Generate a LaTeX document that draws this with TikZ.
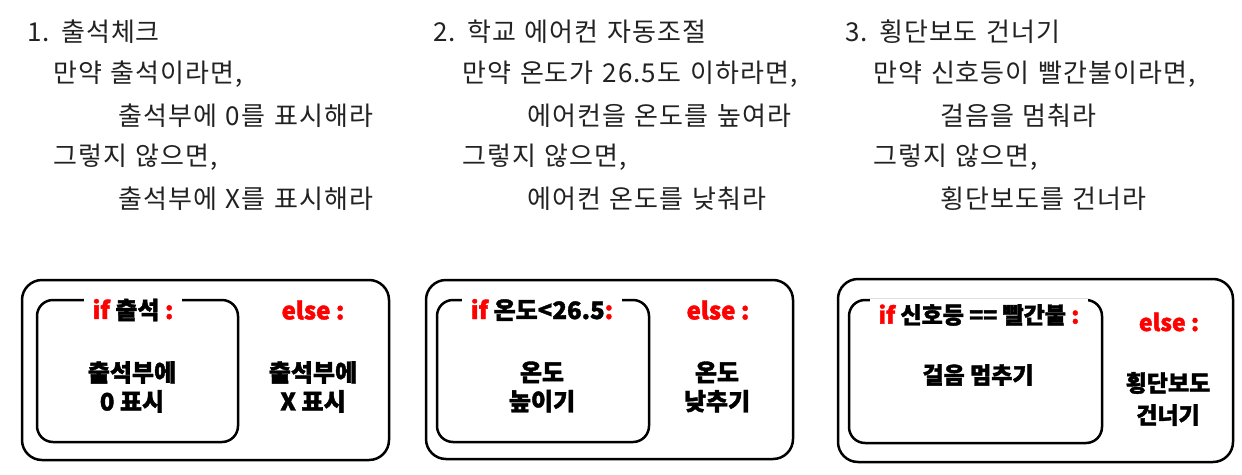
\documentclass[tikz,border=0pt]{standalone}
\usepackage{fontspec}
\setmainfont{Noto Sans CJK KR}[BoldFeatures={FakeBold=1.6}]
\newfontfamily\headfont{Noto Sans CJK KR}[LetterSpace=4,WordSpace=1.3]
\definecolor{ifred}{RGB}{255,0,0}
\definecolor{headgray}{RGB}{34,34,34}

\begin{document}
\begin{tikzpicture}[x=1pt,y=-1pt,every node/.style={inner sep=0pt},
        headtext/.style={anchor=west,text=headgray,font=\headfont\fontsize{26}{30}\selectfont},
        boxtext/.style={align=center,font=\fontsize{24}{29}\selectfont\bfseries},
        boxtitle/.style={boxtext,fill=white,inner xsep=9pt,minimum height=28pt},
        outerbox/.style={draw,line width=2.5pt,rounded corners=20pt},
        innerbox/.style={draw,line width=2.5pt,rounded corners=16pt}]
        \useasboundingbox (0,0) rectangle (1242,474);
        % 1. attendance
        \node[headtext] (h10) at (27,32) {1. 출석체크};
        \node[headtext] (h11) at (53,74) {만약 출석이라면,};
        \node[headtext] (h12) at (118,116) {출석부에 0를 표시해라};
        \node[headtext] (h13) at (53,157) {그렇지 않으면,};
        \node[headtext] (h14) at (118,199) {출석부에 X를 표시해라};
        \draw[outerbox] (22,280) rectangle (389,460);
        \draw[innerbox] (37,300) rectangle (238,442);
        \node[boxtitle] (if1) at (133,310) {\textcolor{ifred}{if} 출석 \textcolor{ifred}{:}};
        \node[boxtext] (then1) at (132,387) {출석부에\\0 표시};
        \node[boxtext] (else1) at (313,310) {\textcolor{ifred}{else :}};
        \node[boxtext] (other1) at (313,387) {출석부에\\X 표시};
        % 2. air conditioner
        \node[headtext] (h20) at (433,32) {2. 학교 에어컨 자동조절};
        \node[headtext] (h21) at (462,74) {만약 온도가 26.5도 이하라면,};
        \node[headtext] (h22) at (527,116) {에어컨을 온도를 높여라};
        \node[headtext] (h23) at (462,157) {그렇지 않으면,};
        \node[headtext] (h24) at (527,199) {에어컨 온도를 낮춰라};
        \draw[outerbox] (426,280) rectangle (793,459);
        \draw[innerbox] (437,300) rectangle (649,442);
        \node[boxtitle] (if2) at (542,310) {\textcolor{ifred}{if} 온도<26.5\textcolor{ifred}{:}};
        \node[boxtext] (then2) at (542,387) {온도\\높이기};
        \node[boxtext] (else2) at (718,310) {\textcolor{ifred}{else :}};
        \node[boxtext] (other2) at (717,387) {온도\\낮추기};
        % 3. crosswalk
        \node[headtext] (h30) at (845,32) {3. 횡단보도 건너기};
        \node[headtext] (h31) at (873,74) {만약 신호등이 빨간불이라면,};
        \node[headtext] (h32) at (940,116) {걸음을 멈춰라};
        \node[headtext] (h33) at (873,157) {그렇지 않으면,};
        \node[headtext] (h34) at (940,199) {횡단보도를 건너라};
        \draw[outerbox] (838,279) rectangle (1233,462);
        \draw[innerbox] (849,300) rectangle (1102,443);
        \node[boxtitle,font=\fontsize{23}{29}\selectfont\bfseries,minimum height=32pt] (if3) at (979,315) {\textcolor{ifred}{if} 신호등 == 빨간불 \textcolor{ifred}{:}};
        \node[boxtext,font=\fontsize{23}{29}\selectfont\bfseries] (then3) at (978,375) {걸음 멈추기};
        \node[boxtext,font=\fontsize{23}{29}\selectfont\bfseries] (else3) at (1169,322) {\textcolor{ifred}{else :}};
        \node[boxtext,font=\fontsize{23}{32}\selectfont\bfseries] (other3) at (1168,399) {횡단보도\\건너기};
\end{tikzpicture}
\end{document}
